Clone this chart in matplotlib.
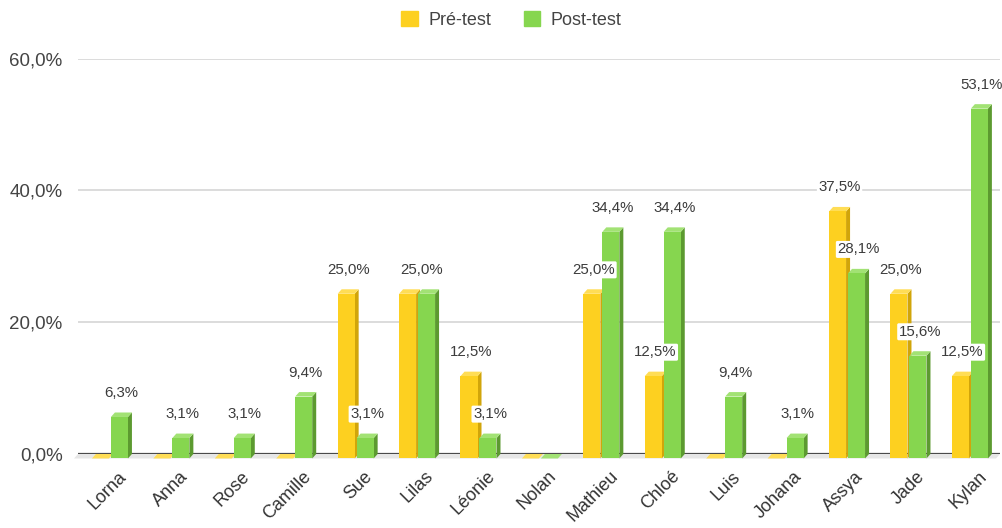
import matplotlib.pyplot as plt
import numpy as np
from matplotlib.collections import PolyCollection
from matplotlib.patches import Patch
import matplotlib.transforms as mtransforms

plt.rcParams['font.family'] = ['Liberation Sans', 'DejaVu Sans']

names = ['Lorna', 'Anna', 'Rose', 'Camille', 'Sue', 'Lilas', 'Léonie', 'Nolan',
         'Mathieu', 'Chloé', 'Luis', 'Johana', 'Assya', 'Jade', 'Kylan']
pre_test = [0, 0, 0, 0, 25.0, 25.0, 12.5, 0, 25.0, 12.5, 0, 0, 37.5, 25.0, 12.5]
post_test = [6.3, 3.1, 3.1, 9.4, 3.1, 25.0, 3.1, 0, 34.4, 34.4, 9.4, 3.1, 28.1, 15.6, 53.1]
yticks = [0, 20, 40, 60]

yellow = ('#FDD020', '#D1A50A', '#FFDD55')   # front, side, top
green = ('#86D64F', '#5C9A30', '#A2E274')

fig = plt.figure(figsize=(10.03, 5.28), dpi=100)
ax = fig.add_axes([78 / 1003, 74 / 528, 922 / 1003, 395.3 / 528])
ax.set_xlim(-0.52, 14.49)
ax.set_ylim(0, 60)

x = np.arange(len(names))
w = 0.277     # bar width (data units)
dx = 0.065    # 3d depth, x
dy = 0.68     # 3d depth, y


def fmt(v):
    return f'{v:.1f}%'.replace('.', ',')


def bars3d(left, vals, cols):
    vals = np.array(vals, dtype=float)
    right = left + w
    sides = [[(r, -dy), (r + dx, 0), (r + dx, v), (r, v - dy)] for r, v in zip(right, vals)]
    tops = [[(l, v - dy), (l + dx, v), (r + dx, v), (r, v - dy)] for l, r, v in zip(left, right, vals)]
    ax.add_collection(PolyCollection(sides, facecolors=cols[1], edgecolors='none', zorder=3, clip_on=False))
    ax.add_collection(PolyCollection(tops, facecolors=cols[2], edgecolors='none', zorder=3, clip_on=False))
    ax.bar(left, vals, width=w, bottom=-dy, align='edge', color=cols[0], zorder=3.1, clip_on=False)


# floor + axis line
floor = [[(-0.52, 0), (14.49, 0), (14.49 - dx, -dy), (-0.52 - dx, -dy)]]
ax.add_collection(PolyCollection(floor, facecolors='#e6e6e6', edgecolors='none', zorder=1, clip_on=False))
ax.axhline(0, color='#4a4a4a', lw=1.6, zorder=2)

y_left = x - 0.293
g_left = x + 0.016
bars3d(y_left, pre_test, yellow)
bars3d(g_left, post_test, green)

lab_kw = dict(textcoords='offset points', xytext=(0, 14), ha='center', va='center',
              fontsize=10.8, color='#3c3c3c', zorder=6, annotation_clip=False,
              bbox=dict(boxstyle='round,pad=0.1', fc='white', ec='none'))
for i in range(len(names)):
    p, q = pre_test[i], post_test[i]
    if p > 0 and p == q:
        ax.annotate(fmt(p), (x[i] + dx, p), **lab_kw)
        continue
    if p > 0:
        ax.annotate(fmt(p), (y_left[i] + w / 2 + dx / 2, p), **lab_kw)
    if q > 0:
        ax.annotate(fmt(q), (g_left[i] + w / 2 + dx / 2, q), **lab_kw)

ax.set_yticks(yticks)
ax.set_yticklabels([fmt(t) for t in yticks], fontsize=13.5, color='#444444')
ax.yaxis.grid(True, color='#d6d6d6', lw=1.2)
ax.set_axisbelow(True)
ax.tick_params(axis='y', length=0, pad=11)

ax.set_xticks(x)
ax.set_xticklabels(names, rotation=45, ha='right', va='top', rotation_mode='anchor',
                   fontsize=13, color='#333333')
ax.tick_params(axis='x', length=0, pad=10)
shift = mtransforms.ScaledTranslation(0.08, 0, fig.dpi_scale_trans)
for t in ax.get_xticklabels():
    t.set_transform(t.get_transform() + shift)

for s in ax.spines.values():
    s.set_visible(False)

handles = [Patch(color=yellow[0], label='Pré-test'), Patch(color=green[0], label='Post-test')]
fig.legend(handles=handles, loc='upper center', bbox_to_anchor=(0.51, 1.01), ncol=2, frameon=False,
           fontsize=13, handlelength=0.9, handleheight=0.9, handletextpad=0.6, columnspacing=1.8,
           labelcolor='#444444')

fig.savefig('out.png', dpi=100)
